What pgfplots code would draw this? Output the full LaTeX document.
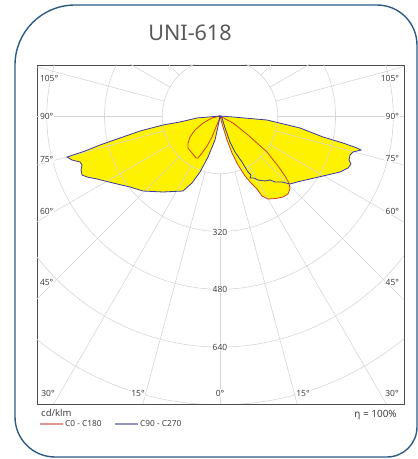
\documentclass[border=0pt]{standalone}
\usepackage{fontspec}
\setmainfont{Noto Sans}
\usepackage{pgfplots}
\usepackage{pgfplotstable}
\pgfplotsset{compat=1.18}
\definecolor{gridc}{HTML}{D6D6D6}
\definecolor{redc}{HTML}{C8402A}
\definecolor{bluec}{HTML}{3A3A9E}
\definecolor{framec}{HTML}{2E5A87}
\definecolor{txt}{HTML}{404040}
\definecolor{titlec}{HTML}{595959}

% C90 - C270 (x,y in cd/klm, centre of luminaire at 0,0)
\pgfplotstableread{
x y
0 0
-63.7 -5.5
-110.8 -16.6
-157.9 -24.9
-221.6 -41.6
-277 -60.9
-332.4 -80.3
-374 -97
-423.8 -113.6
-410 -121.9
-387.8 -127.4
-382.3 -135.7
-385 -149.6
-382.3 -163.4
-368.4 -169
-340.7 -174.5
-296.4 -185.6
-249.3 -196.7
-213.3 -207.8
-157.9 -210.5
-102.5 -207.8
-77.6 -185.6
-55.4 -155.1
-33.2 -113.6
-13.9 -66.5
-2.8 -16.6
0 0
5.5 -5.5
13.9 -33.2
27.7 -72
41.6 -99.7
60.9 -127.4
77.6 -155.1
85.9 -163.4
83.1 -171.7
94.2 -171.7
105.3 -177.3
124.7 -180
138.5 -177.3
152.4 -182.8
171.7 -182.8
193.9 -188.4
213.3 -182.8
249.3 -174.5
285.3 -166.2
332.4 -155.1
354.6 -144
362.9 -133
357.3 -121.9
360.1 -108
368.4 -99.7
390.6 -94.2
379.5 -88.6
340.7 -74.8
285.3 -58.2
221.6 -33.2
130.2 -11.1
36 -2.8
0 0
}\blueC

% C0 - C180, right lobe
\pgfplotstableread{
x y
0 0
36 -19.4
77.6 -52.6
105.3 -77.6
130.2 -99.7
160.7 -138.5
180 -166.2
191.1 -185.6
193.9 -202.2
188.4 -216
174.5 -224.4
155.1 -228.5
133 -229.9
116.3 -221.6
102.5 -202.2
85.9 -185.6
69.3 -166.2
49.9 -135.7
33.2 -102.5
19.4 -66.5
8.3 -30.5
0 0
}\redR

% C0 - C180, left lobe
\pgfplotstableread{
x y
0 0
-22.2 -5.5
-47.1 -19.4
-69.3 -38.8
-83.1 -58.2
-88.6 -74.8
-88.6 -88.6
-77.6 -102.5
-66.5 -116.3
-60.9 -116.3
-49.9 -102.5
-36 -83.1
-22.2 -58.2
-11.1 -30.5
-2.8 -11.1
0 0
}\redL

\begin{document}
\begin{tikzpicture}[x=1pt,y=1pt]
% outer rounded frame
\draw[framec, line width=1.4pt]
  (15,42) -- (15,394) arc[start angle=180, end angle=90, radius=60]
  -- (377,454) arc[start angle=90, end angle=0, radius=40]
  -- (417,32) arc[start angle=0, end angle=-90, radius=30]
  -- (55,2) arc[start angle=270, end angle=180, radius=40] -- cycle;
\node[text=titlec, font=\fontsize{21.5}{24}\selectfont] at (190,426) {UNI-618};

\begin{axis}[at={(37pt,55pt)}, anchor=south west, scale only axis,
  width=367pt, height=339pt,
  xmin=-507, xmax=509.7, ymin=-797.8, ymax=141.3,
  axis line style={draw=black!70, line width=0.7pt},
  ticks=none]
\addplot[fill=yellow, draw=none] table {\blueC};
\addplot[fill=yellow, draw=none] table {\redR};
\addplot[fill=yellow, draw=none] table {\redL};
\pgfplotsinvokeforeach{160,320,480,640,800,960}{
  \draw[gridc, line width=0.6pt] (axis cs:0,0) circle[radius=#1];
}
\pgfplotsinvokeforeach{0,15,...,345}{
  \draw[gridc, line width=0.6pt] (axis cs:{160*cos(#1)},{160*sin(#1)}) -- (axis cs:{1400*cos(#1)},{1400*sin(#1)});
}
\addplot[redc, line width=0.8pt] table {\redR};
\addplot[redc, line width=0.8pt] table {\redL};
\addplot[bluec, line width=0.8pt] table {\blueC};
\end{axis}

\begin{scope}[every node/.style={text=txt, font=\fontsize{8.5}{10}\selectfont, fill=white, inner sep=0.8pt}]
\node[anchor=west] at (39,381) {105°};
\node[anchor=west] at (39,343) {90°};
\node[anchor=west] at (39,300) {75°};
\node[anchor=west] at (39,248) {60°};
\node[anchor=west] at (39,177) {45°};
\node[anchor=east] at (400,381) {105°};
\node[anchor=east] at (400,343) {90°};
\node[anchor=east] at (400,301) {75°};
\node[anchor=east] at (400,248) {60°};
\node[anchor=east] at (400,177) {45°};
\node at (48,66) {30°};
\node at (138,66) {15°};
\node at (220,66) {0°};
\node at (303,66) {15°};
\node at (392,66) {30°};
\node at (220,227) {320};
\node at (220,170) {480};
\node at (220,112) {640};
\end{scope}

\node[anchor=west, text=txt, font=\fontsize{9.5}{11}\selectfont, inner sep=0pt] at (41,46) {cd/klm};
\node[anchor=east, text=txt, font=\fontsize{10}{12}\selectfont, inner sep=0pt] at (397,44) {η = 100\%};
\draw[redc!55, line width=1.2pt] (40,35) -- (63,35);
\node[anchor=west, text=txt, font=\fontsize{8.3}{10}\selectfont, inner sep=0pt] at (65,35) {C0 - C180};
\draw[bluec!55, line width=1.2pt] (115,35) -- (138,35);
\node[anchor=west, text=txt, font=\fontsize{8.3}{10}\selectfont, inner sep=0pt] at (140,35) {C90 - C270};
\pgfresetboundingbox
\useasboundingbox (0,0) rectangle (418,459);
\end{tikzpicture}
\end{document}
